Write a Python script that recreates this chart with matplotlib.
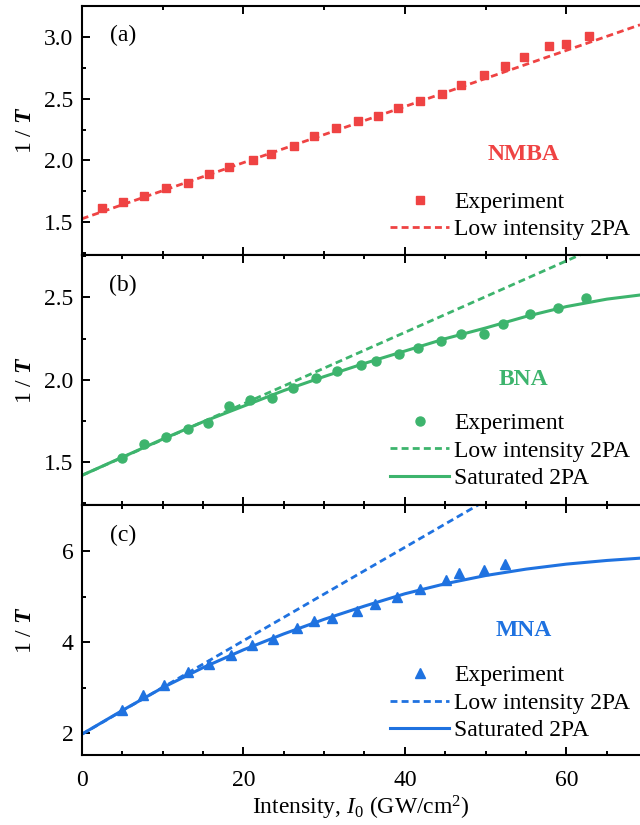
import matplotlib
matplotlib.use("Agg")
import matplotlib.pyplot as plt
from matplotlib.ticker import MultipleLocator

plt.rcParams["font.family"] = ["Liberation Serif", "DejaVu Serif"]
plt.rcParams["font.size"] = 17
plt.rcParams["mathtext.fontset"] = "custom"
plt.rcParams["mathtext.rm"] = "Liberation Serif"
plt.rcParams["mathtext.it"] = "Liberation Serif:italic"
plt.rcParams["mathtext.bf"] = "Liberation Serif:bold"
plt.rcParams["mathtext.bfit"] = "Liberation Serif:italic:bold"

# (a) NMBA
a_x = [2.55, 5.15, 7.75, 10.43, 13.12, 15.75, 18.27, 21.24, 23.47, 26.27, 28.79, 31.47,
       34.16, 36.67, 39.2, 41.85, 44.6, 47.0, 49.8, 52.4, 54.8, 57.8, 59.9, 62.8]
a_y = [1.613, 1.661, 1.714, 1.779, 1.817, 1.887, 1.944, 2.005, 2.053, 2.118, 2.196, 2.260,
       2.317, 2.363, 2.427, 2.48, 2.54, 2.616, 2.696, 2.763, 2.839, 2.925, 2.946, 3.013]
a_low_x = [0, 69.1]
a_low_y = [1.527, 3.10]

# (b) BNA
b_x = [5.04, 7.66, 10.38, 13.1, 15.6, 18.24, 20.83, 23.51, 26.11, 29.0, 31.56, 34.53,
       36.42, 39.31, 41.66, 44.47, 46.9, 49.83, 52.18, 55.48, 58.99, 62.47]
b_y = [1.526, 1.610, 1.651, 1.701, 1.741, 1.841, 1.877, 1.892, 1.952, 2.012, 2.052, 2.092,
       2.116, 2.160, 2.193, 2.237, 2.281, 2.281, 2.337, 2.399, 2.437, 2.498]
b_low_x = [0, 69.1]
b_low_y = [1.42, 2.92]
b_sat_x = [0, 5, 10, 15, 20, 25, 30, 35, 40, 45, 50, 55, 60, 65, 69.1]
b_sat_y = [1.42, 1.53, 1.64, 1.745, 1.84, 1.935, 2.02, 2.1, 2.175, 2.25, 2.315, 2.385,
           2.445, 2.49, 2.515]

# (c) MNA
c_x = [5.04, 7.56, 10.18, 13.1, 15.77, 18.49, 21.04, 23.72, 26.61, 28.75, 30.94, 34.11,
       36.3, 38.98, 41.87, 45.05, 46.74, 49.79, 52.39]
c_y = [2.51, 2.84, 3.06, 3.35, 3.52, 3.72, 3.934, 4.066, 4.313, 4.467, 4.533, 4.679,
       4.832, 4.979, 5.154, 5.351, 5.505, 5.584, 5.702]
c_low_x = [0, 69.1]
c_low_y = [1.98, 9.06]
c_sat_x = [0, 5, 10, 15, 20, 25, 30, 35, 40, 45, 50, 55, 60, 65, 69.1]
c_sat_y = [1.98, 2.5, 3.0, 3.44, 3.83, 4.18, 4.5, 4.79, 5.06, 5.28, 5.46, 5.6, 5.71,
           5.79, 5.84]

red = "#ef4343"
green = "#3db46d"
blue = "#1f72e0"

panels = [
    dict(tag="(a)", name="NMBA", color=red, marker="s", ms=6.0, x=a_x, y=a_y,
         low=(a_low_x, a_low_y), sat=None, ylim=(1.23, 3.255), major=0.5, minor=0.25,
         xminor=10, name_y=0.405, leg_y=0.06),
    dict(tag="(b)", name="BNA", color=green, marker="o", ms=6.5, x=b_x, y=b_y,
         low=(b_low_x, b_low_y), sat=(b_sat_x, b_sat_y), ylim=(1.239, 2.755), major=0.5,
         minor=0.25, xminor=5, name_y=0.503, leg_y=0.065),
    dict(tag="(c)", name="MNA", color=blue, marker="^", ms=7.5, x=c_x, y=c_y,
         low=(c_low_x, c_low_y), sat=(c_sat_x, c_sat_y), ylim=(1.525, 7.0), major=2,
         minor=1, xminor=5, name_y=0.5, leg_y=0.055),
]

fig = plt.figure(figsize=(6.4, 8.25), dpi=100)
gs = fig.add_gridspec(3, 1, left=0.1277, right=1.0, top=0.9931, bottom=0.0848, hspace=0)

for i, p in enumerate(panels):
    ax = fig.add_subplot(gs[i])
    c = p["color"]
    ax.plot(p["x"], p["y"], ls="none", marker=p["marker"], ms=p["ms"], color=c,
            mec=c, label="Experiment", zorder=3)
    ax.plot(p["low"][0], p["low"][1], ls=(0, (2.5, 1.5)), lw=2.0, color=c,
            label="Low intensity 2PA", zorder=2)
    if p["sat"] is not None:
        ax.plot(p["sat"][0], p["sat"][1], ls="-", lw=2.2, color=c,
                label="Saturated 2PA", zorder=2)

    ax.set_xlim(0, 69.1)
    ax.set_ylim(*p["ylim"])
    ax.xaxis.set_major_locator(MultipleLocator(20))
    ax.xaxis.set_minor_locator(MultipleLocator(p["xminor"]))
    ax.yaxis.set_major_locator(MultipleLocator(p["major"]))
    ax.yaxis.set_minor_locator(MultipleLocator(p["minor"]))
    if p["major"] < 1:
        ax.yaxis.set_major_formatter(matplotlib.ticker.FormatStrFormatter("%.1f"))

    ax.tick_params(which="both", direction="in", top=True, right=False, width=1.4)
    ax.tick_params(which="major", length=6)
    ax.tick_params(which="minor", length=3)
    ax.tick_params(axis="y", pad=6)
    ax.tick_params(axis="x", pad=11, labelbottom=(i == 2))
    for side in ["left", "bottom", "top"]:
        ax.spines[side].set_linewidth(1.5)
    ax.spines["right"].set_visible(False)

    ax.set_ylabel("1 / $\\mathbfit{T}$")
    ax.yaxis.set_label_coords(-0.082, 0.5)

    ax.text(0.074, 0.88, p["tag"], transform=ax.transAxes, ha="center", va="center")
    ax.text(0.792, p["name_y"], p["name"], transform=ax.transAxes, ha="center",
            va="center", color=c, fontweight="bold")

    ax.legend(loc="lower left", bbox_to_anchor=(0.553, p["leg_y"]), frameon=False,
              handlelength=2.5, handletextpad=0.2, labelspacing=0.25, borderpad=0,
              borderaxespad=0, numpoints=1)

    if i == 2:
        ax.set_xlabel("Intensity, $I_0$ (GW/cm$^2$)", labelpad=2)

fig.savefig("out.png", dpi=100)
